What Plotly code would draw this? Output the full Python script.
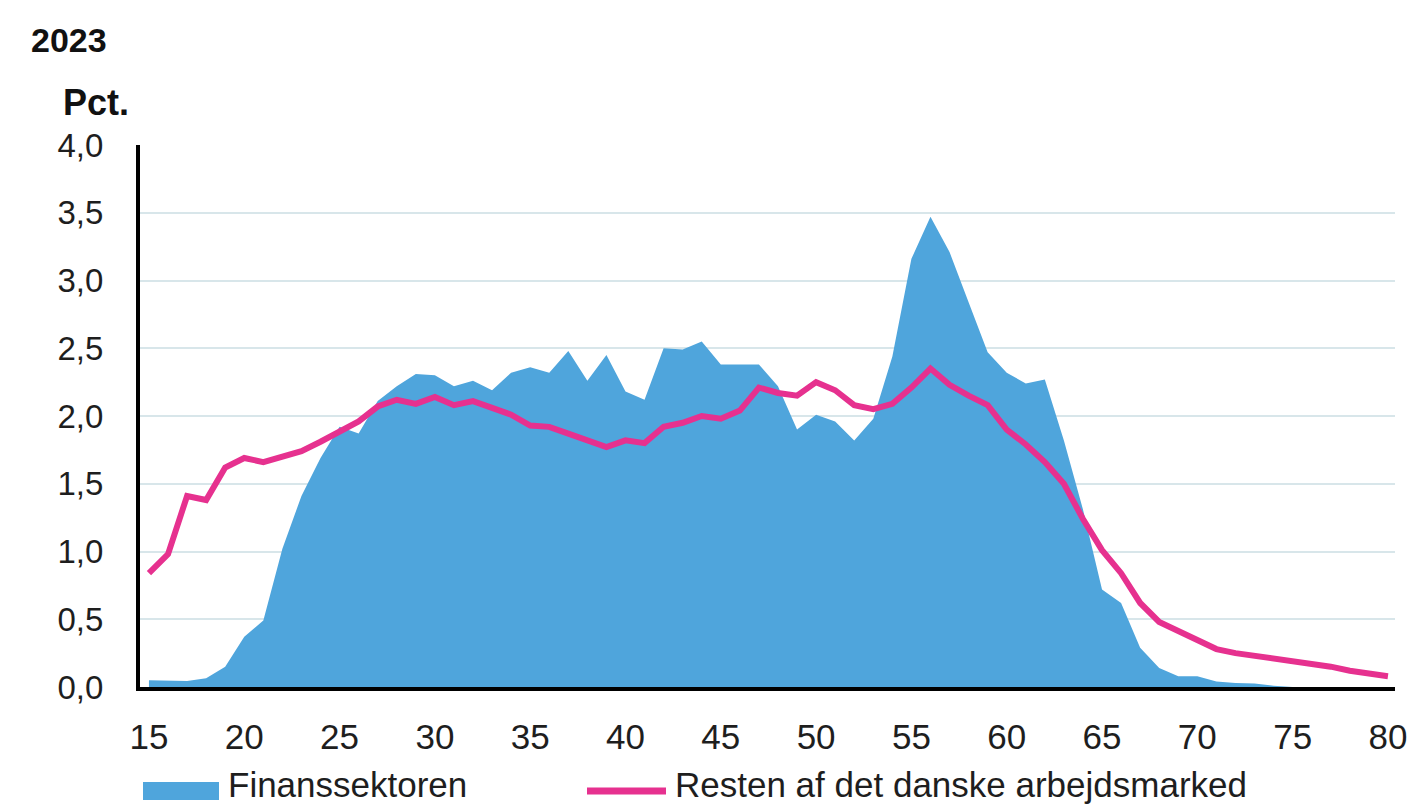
import plotly.graph_objects as go

ages = list(range(15, 81))

finans = [0.05, 0.045, 0.045, 0.065, 0.15, 0.37, 0.49, 1.02, 1.41, 1.69,
          1.92, 1.87, 2.11, 2.22, 2.31, 2.30, 2.22, 2.26, 2.19, 2.32,
          2.36, 2.32, 2.48, 2.26, 2.45, 2.18, 2.12, 2.50, 2.49, 2.55,
          2.38, 2.38, 2.38, 2.22, 1.90, 2.01, 1.96, 1.82, 1.98, 2.44,
          3.16, 3.47, 3.21, 2.84, 2.47, 2.32, 2.24, 2.27, 1.82, 1.31,
          0.72, 0.62, 0.29, 0.14, 0.08, 0.08, 0.04, 0.03, 0.025, 0.01,
          0.0, 0.0, 0.0, 0.0, 0.0, 0.0]

resten = [0.84, 0.98, 1.41, 1.38, 1.62, 1.69, 1.66, 1.70, 1.74, 1.81,
          1.88, 1.96, 2.07, 2.12, 2.09, 2.14, 2.08, 2.11, 2.06, 2.01,
          1.93, 1.92, 1.87, 1.82, 1.77, 1.82, 1.80, 1.92, 1.95, 2.00,
          1.98, 2.04, 2.21, 2.17, 2.15, 2.25, 2.19, 2.08, 2.05, 2.09,
          2.21, 2.35, 2.23, 2.15, 2.08, 1.90, 1.79, 1.66, 1.50, 1.24,
          1.01, 0.84, 0.62, 0.48, 0.41, 0.34, 0.28, 0.25, 0.23, 0.22,
          0.19, 0.17, 0.15, 0.12, 0.10, 0.08]

series_names = ["Finanssektoren", "Resten af det danske arbejdsmarked"]
x_ticks = [15, 20, 25, 30, 35, 40, 45, 50, 55, 60, 65, 70, 75, 80]
y_ticks = [0, 0.5, 1.0, 1.5, 2.0, 2.5, 3.0, 3.5, 4.0]

FONT = "Liberation Sans, Arial, sans-serif"
TXT = "#1e1e1e"
BLUE = "#4FA5DC"
PINK = "#E6318F"

# plot area in pixels
L, R, T, B, W, H = 140, 15, 145, 120, 1410, 807
PW, PH = W - L - R, H - T - B


def px(x):
    return (x - L) / PW


def py(y):
    return (H - B - y) / PH


fig = go.Figure()
fig.add_trace(go.Scatter(
    x=ages, y=finans, name=series_names[0], mode="lines",
    line=dict(color=BLUE, width=0), fill="tozeroy", fillcolor=BLUE,
    showlegend=False,
))
fig.add_trace(go.Scatter(
    x=ages, y=resten, name=series_names[1], mode="lines",
    line=dict(color=PINK, width=6), showlegend=False,
))

fig.update_layout(
    width=W, height=H,
    margin=dict(l=L, r=R, t=T, b=B, autoexpand=False),
    paper_bgcolor="white", plot_bgcolor="white",
    separators=",.",
    font=dict(family=FONT, size=33, color=TXT),
    showlegend=False,
    xaxis=dict(
        range=[14.53, 80.37], tickvals=x_ticks, ticktext=[str(v) for v in x_ticks],
        showgrid=False, zeroline=False, automargin=False,
        showline=True, linecolor="black", linewidth=4,
        ticks="outside", ticklen=16, tickcolor="rgba(0,0,0,0)",
        tickfont=dict(size=35, color=TXT),
    ),
    yaxis=dict(
        range=[0, 4.0], tickvals=y_ticks, tickformat=".1f",
        showgrid=True, gridcolor="#D8E6EA", gridwidth=2,
        zeroline=False, automargin=False,
        showline=True, linecolor="black", linewidth=4,
        ticks="outside", ticklen=26, tickcolor="rgba(0,0,0,0)",
        tickfont=dict(size=33, color=TXT),
    ),
    annotations=[
        dict(text="<b>2023</b>", xref="paper", yref="paper", x=px(29), y=py(40),
             xanchor="left", yanchor="middle", showarrow=False,
             font=dict(size=34, color="#111111")),
        dict(text="<b>Pct.</b>", xref="paper", yref="paper", x=px(61), y=py(102),
             xanchor="left", yanchor="middle", showarrow=False,
             font=dict(size=36, color="#111111")),
        dict(text=series_names[0], xref="paper", yref="paper", x=px(226), y=py(784),
             xanchor="left", yanchor="middle", showarrow=False,
             font=dict(size=35, color=TXT)),
        dict(text=series_names[1], xref="paper", yref="paper", x=px(673), y=py(784),
             xanchor="left", yanchor="middle", showarrow=False,
             font=dict(size=35, color=TXT)),
    ],
    shapes=[
        dict(type="rect", xref="paper", yref="paper",
             x0=px(143), x1=px(219), y0=py(800), y1=py(782),
             fillcolor=BLUE, line=dict(width=0)),
        dict(type="line", xref="paper", yref="paper",
             x0=px(587), x1=px(666), y0=py(791), y1=py(791),
             line=dict(color=PINK, width=7)),
    ],
)

fig.write_html("out.html", config={"displayModeBar": False},
               post_script="document.body.style.margin='0';")
